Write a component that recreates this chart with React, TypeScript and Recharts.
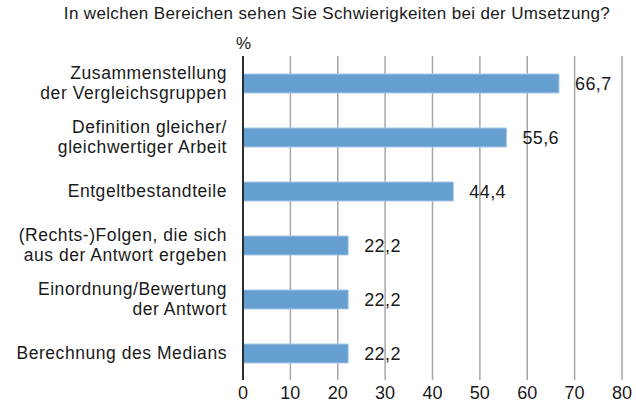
import { Bar, BarChart, CartesianGrid, LabelList, XAxis, YAxis } from 'recharts';

const categories = [
  'Zusammenstellung\nder Vergleichsgruppen',
  'Definition gleicher/\ngleichwertiger Arbeit',
  'Entgeltbestandteile',
  '(Rechts-)Folgen, die sich\naus der Antwort ergeben',
  'Einordnung/Bewertung\nder Antwort',
  'Berechnung des Medians',
];

const values = [66.7, 55.6, 44.4, 22.2, 22.2, 22.2];

const xTicks = [0, 10, 20, 30, 40, 50, 60, 70, 80];

const data = categories.map((name, i) => ({ name, value: values[i] }));

const FONT = '"Liberation Sans", Arial, Helvetica, sans-serif';
const TEXT = '#1a1a1a';

function CategoryTick({ x, y, payload }: any) {
  const lines = String(payload.value).split('\n');
  const lineHeight = 20;
  const startY = y - ((lines.length - 1) * lineHeight) / 2;
  const right = x - 8;
  return (
    <text x={right} y={startY} textAnchor="end" fill={TEXT} fontSize={17.5} fontFamily={FONT} letterSpacing={0.55}>
      {lines.map((line, i) => (
        <tspan key={i} x={right} y={startY + i * lineHeight} dy="0.36em">
          {line}
        </tspan>
      ))}
    </text>
  );
}

export default function App() {
  return (
    <div style={{ position: 'absolute', left: 0, top: 0, width: 636, height: 404, background: '#fff', fontFamily: FONT, overflow: 'hidden' }}>
      <div style={{ position: 'absolute', left: 19, top: 4, width: 636, textAlign: 'center', fontSize: 17, letterSpacing: 0.35, color: TEXT }}>
        In welchen Bereichen sehen Sie Schwierigkeiten bei der Umsetzung?
      </div>
      <div style={{ position: 'absolute', left: 236, top: 34, fontSize: 17, color: TEXT }}>%</div>
      <BarChart
        width={636}
        height={404}
        data={data}
        layout="vertical"
        margin={{ top: 56, right: 14, left: 0, bottom: 0 }}
      >
        <CartesianGrid horizontal={false} vertical stroke="#a6a6a6" strokeWidth={1.5} />
        <XAxis
          type="number"
          domain={[0, 80]}
          ticks={xTicks}
          axisLine={false}
          tickLine={false}
          tickSize={0}
          height={24}
          tick={{ fill: TEXT, fontSize: 18, fontFamily: FONT }}
          tickMargin={6}
          interval={0}
        />
        <YAxis
          type="category"
          dataKey="name"
          width={243}
          axisLine={{ stroke: '#000', strokeWidth: 1.5 }}
          tickLine={false}
          tick={<CategoryTick />}
          interval={0}
        />
        <Bar dataKey="value" fill="#659fd0" stroke="#a8c8e8" strokeWidth={1} barSize={19} isAnimationActive={false}>
          <LabelList
            dataKey="value"
            position="right"
            offset={16}
            fill={TEXT}
            fontSize={18}
            fontFamily={FONT}
            letterSpacing={0.4}
            formatter={(v: any) => String(v).replace('.', ',')}
          />
        </Bar>
      </BarChart>
    </div>
  );
}
